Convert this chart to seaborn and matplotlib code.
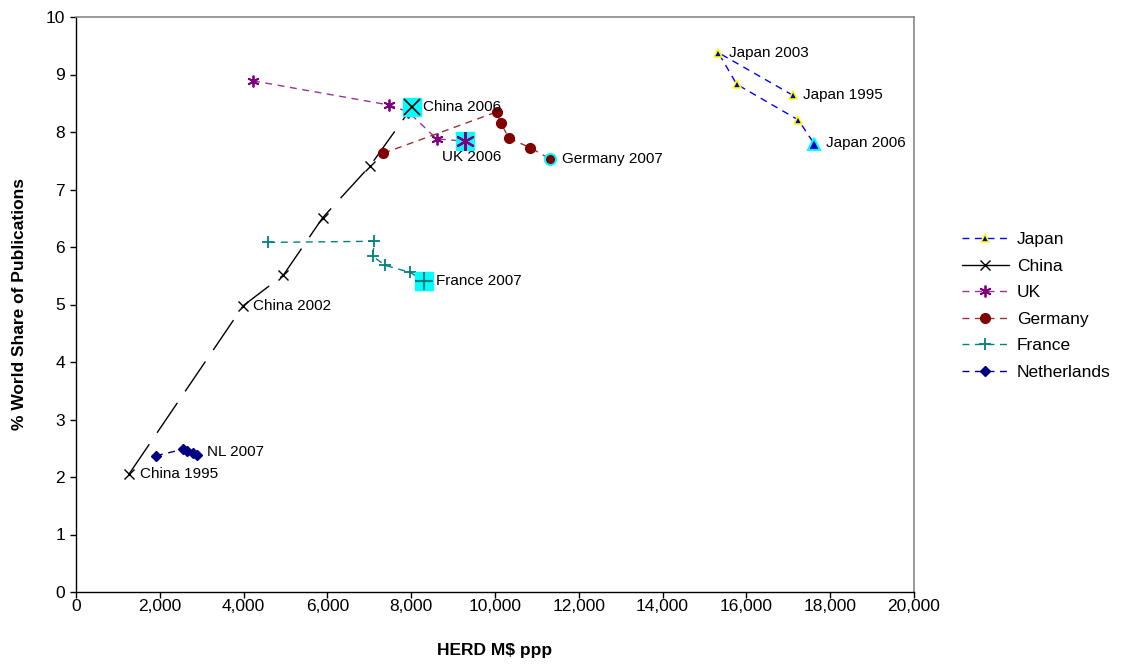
import matplotlib
matplotlib.use("Agg")
import matplotlib.pyplot as plt
from matplotlib.lines import Line2D
from matplotlib.ticker import FuncFormatter, MultipleLocator
import seaborn as sns
import pandas as pd

# ---- data ----
japan_x = [17105, 15330, 15768, 17239, 17613]
japan_y = [8.64, 9.38, 8.83, 8.21, 7.80]

china_x = [1265, 3993, 4948, 5888, 7017, 8019]
china_y = [2.05, 4.98, 5.51, 6.51, 7.41, 8.43]

uk_x = [4224, 7470, 7931, 8609, 9284]
uk_y = [8.89, 8.47, 8.35, 7.88, 7.84]

germany_x = [7334, 10041, 10143, 10334, 10835, 11313]
germany_y = [7.63, 8.35, 8.15, 7.89, 7.73, 7.53]

france_x = [4590, 7119, 7081, 7382, 7971, 8313]
france_y = [6.08, 6.10, 5.84, 5.68, 5.56, 5.41]

nl_x = [1909, 2546, 2656, 2785, 2895]
nl_y = [2.37, 2.48, 2.45, 2.42, 2.38]

series_names = ["Japan", "China", "UK", "Germany", "France", "Netherlands"]

# annotations: (label, x, y, dx px, dy px, ha, va)
annotations = [
    ("Japan 2003", 15330, 9.38, 11, 0, "left", "center"),
    ("Japan 1995", 17105, 8.64, 10, 0, "left", "center"),
    ("Japan 2006", 17613, 7.80, 12, 0, "left", "center"),
    ("China 2006", 8019, 8.43, 11, 0, "left", "center"),
    ("UK 2006", 9284, 7.84, 7, -16, "center", "center"),
    ("Germany 2007", 11313, 7.53, 12, 0, "left", "center"),
    ("France 2007", 8313, 5.41, 12, 0, "left", "center"),
    ("China 2002", 3993, 4.98, 10, 0, "left", "center"),
    ("China 1995", 1265, 2.05, 11, 0, "left", "center"),
    ("NL 2007", 2895, 2.38, 10, 3, "left", "center"),
]

sns.set_theme(style="white")
plt.rcParams["font.family"] = ["Liberation Sans", "DejaVu Sans"]
plt.rcParams["text.color"] = "black"
plt.rcParams["axes.labelcolor"] = "black"
plt.rcParams["xtick.color"] = "black"
plt.rcParams["ytick.color"] = "black"

fig = plt.figure(figsize=(11.22, 6.64), dpi=100)
ax = fig.add_axes([76 / 1122, 72 / 664, (914 - 76) / 1122, (592 - 17) / 664])

short_dash = (0, (5, 4))
long_dash = (0, (26, 10))

styles = {
    "Japan": dict(color="#0000FF", ls=short_dash, marker="^", mfc="#0000CC", mec="#FFFF00", ms=5.5, mew=1.2),
    "China": dict(color="#000000", ls=long_dash, marker="x", mfc="#000000", mec="#000000", ms=7, mew=1.0),
    "UK": dict(color="#993399", ls=short_dash, marker=(6, 2, 0), mfc="#800080", mec="#800080", ms=8.5, mew=1.3),
    "Germany": dict(color="#993333", ls=short_dash, marker="o", mfc="#800000", mec="#800000", ms=7, mew=1.0),
    "France": dict(color="#008080", ls=short_dash, marker="+", mfc="#008080", mec="#008080", ms=8, mew=1.3),
    "Netherlands": dict(color="#000080", ls=short_dash, marker="D", mfc="#000080", mec="#000080", ms=5, mew=1.0),
}

data = {
    "Japan": (japan_x, japan_y),
    "China": (china_x, china_y),
    "UK": (uk_x, uk_y),
    "Germany": (germany_x, germany_y),
    "France": (france_x, france_y),
    "Netherlands": (nl_x, nl_y),
}

for name in series_names:
    xs, ys = data[name]
    st = styles[name]
    df = pd.DataFrame({"x": xs, "y": ys})
    sns.lineplot(data=df, x="x", y="y", sort=False, estimator=None, ax=ax,
                 color=st["color"], linestyle=st["ls"], linewidth=1.0,
                 marker=st["marker"], markerfacecolor=st["mfc"],
                 markeredgecolor=st["mec"], markersize=st["ms"],
                 markeredgewidth=st["mew"], legend=False, zorder=3)

# highlighted end points
cyan = "#00FFFF"
for name in ["China", "UK", "France"]:
    xs, ys = data[name]
    ax.plot([xs[-1]], [ys[-1]], marker="s", ms=13, mfc=cyan, mec=cyan, ls="none", zorder=4)
    st = styles[name]
    ax.plot([xs[-1]], [ys[-1]], marker=st["marker"], ms=st["ms"] * 1.6, mfc=st["mfc"],
            mec=st["mec"], mew=st["mew"] * 1.2, ls="none", zorder=5)
xs, ys = data["Germany"]
ax.plot([xs[-1]], [ys[-1]], marker="o", ms=8, mfc="#800000", mec=cyan, mew=1.5, ls="none", zorder=5)
xs, ys = data["Japan"]
ax.plot([xs[-1]], [ys[-1]], marker="^", ms=9, mfc="#0000CC", mec=cyan, mew=1.5, ls="none", zorder=5)

for label, x, y, dx, dy, ha, va in annotations:
    ax.annotate(label, (x, y), xytext=(dx, dy), textcoords="offset pixels",
                ha=ha, va=va, fontsize=11, color="black", zorder=6)

ax.set_xlim(0, 20000)
ax.set_ylim(0, 10)
ax.xaxis.set_major_locator(MultipleLocator(2000))
ax.yaxis.set_major_locator(MultipleLocator(1))
ax.xaxis.set_major_formatter(FuncFormatter(lambda v, p: f"{int(v):,}"))
ax.yaxis.set_major_formatter(FuncFormatter(lambda v, p: f"{int(v)}"))
ax.tick_params(axis="both", direction="out", length=4, width=1, color="black",
               labelsize=12.5, bottom=True, left=True)
ax.tick_params(axis="x", pad=1)
ax.tick_params(axis="y", pad=4)
ax.set_xlabel("HERD M$ ppp", fontsize=12.5, fontweight="bold", labelpad=21)
ax.set_ylabel("% World Share of Publications", fontsize=12.5, fontweight="bold", labelpad=13)

for side in ["left", "bottom"]:
    ax.spines[side].set_color("black")
    ax.spines[side].set_linewidth(1.0)
for side in ["top", "right"]:
    ax.spines[side].set_color("#888888")
    ax.spines[side].set_linewidth(1.2)

handles = []
for name in series_names:
    st = styles[name]
    ls = "-" if name == "China" else short_dash
    handles.append(Line2D([0], [0], color=st["color"], linestyle=ls, linewidth=1.0,
                          marker=st["marker"], markerfacecolor=st["mfc"],
                          markeredgecolor=st["mec"], markersize=st["ms"],
                          markeredgewidth=st["mew"]))
fig.legend(handles, series_names, loc="center left", bbox_to_anchor=(962 / 1122, 1 - 306 / 664),
           frameon=False, fontsize=12.5, handlelength=2.7, handletextpad=0.45,
           labelspacing=0.66, borderaxespad=0, borderpad=0)

fig.savefig("out.png", dpi=100)
